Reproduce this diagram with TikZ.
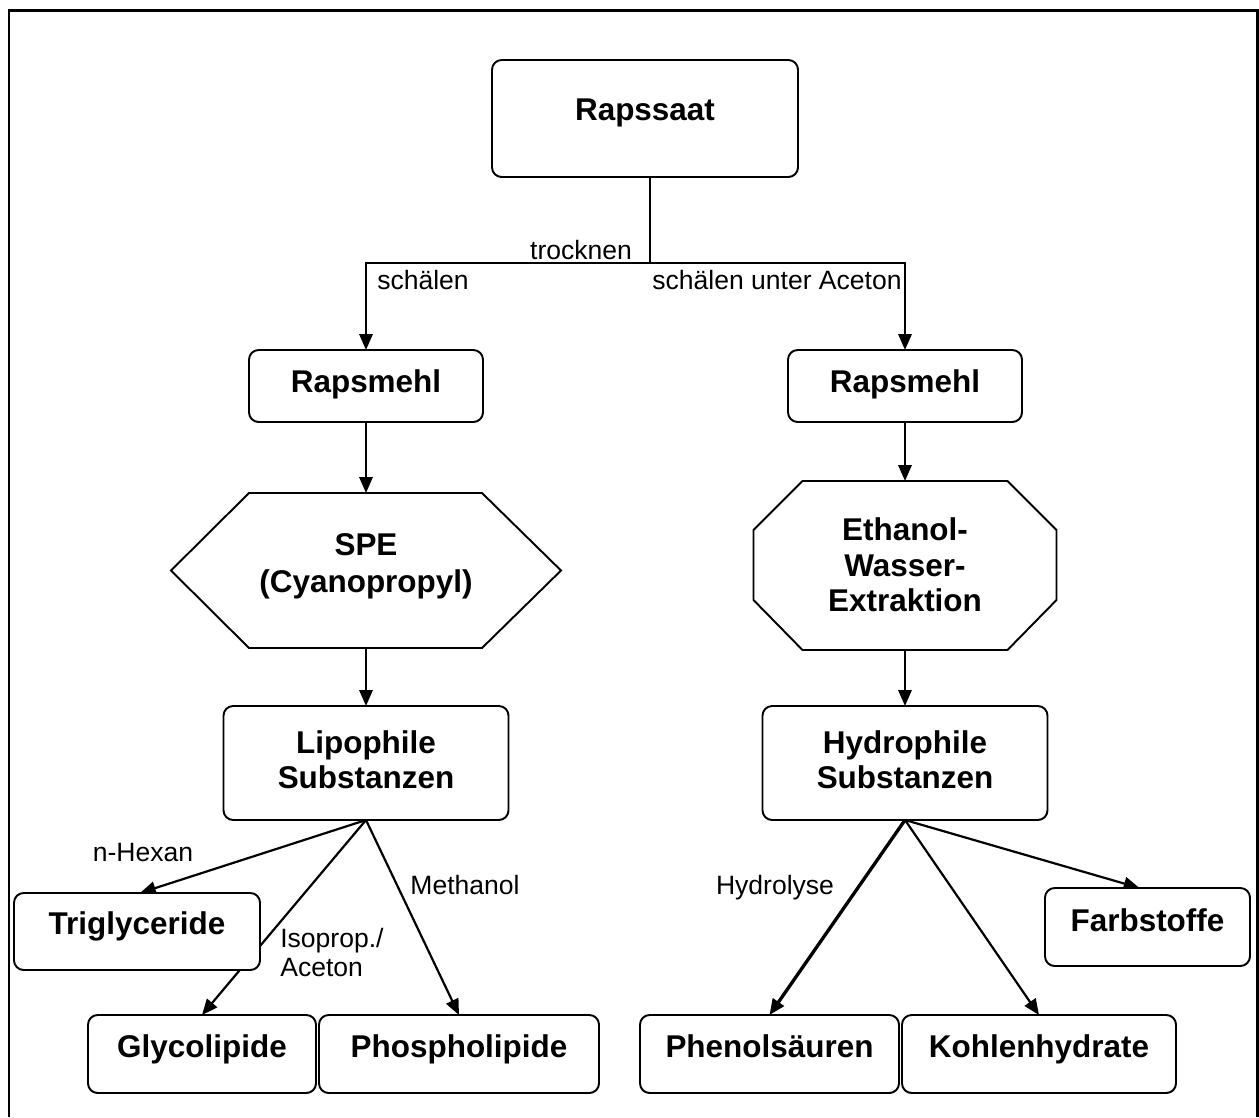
\documentclass[tikz,border=0pt]{standalone}
\usepackage{fontspec}
\setmainfont{Liberation Sans}
\usetikzlibrary{arrows.meta,calc,backgrounds}
\begin{document}
\begin{tikzpicture}[x=0.02cm,y=-0.02cm,
  box/.style={draw, line width=1.1pt, rounded corners=5.5pt, fill=white, inner sep=0pt, outer sep=0pt},
  shp/.style={inner sep=0pt, outer sep=0pt},
  sz/.style 2 args={minimum width=#1*0.02cm, minimum height=#2*0.02cm},
  outline/.style={draw, line width=1.1pt, fill=white},
  bt/.style={font=\fontsize{17.9}{19.8}\selectfont\bfseries, align=center, inner sep=0pt},
  bt1/.style={bt, text height=13pt, text depth=3.8pt},
  lt/.style={font=\fontsize{15.1}{16.4}\selectfont, inner sep=0pt},
  arr/.style={line width=1.25pt, -{Triangle[length=9pt,width=7.5pt]}},
  thickarr/.style={line width=1.9pt, -{Triangle[length=9pt,width=7.5pt]}},
  conn/.style={line width=1.25pt}
]
\useasboundingbox (0,0) rectangle (1259,1117);
\draw[line width=1.7pt] (9,1117) -- (9,10) -- (1257,10) -- (1257,1117);

% boxes
\node[box, sz={306}{117}] (rs) at (645,118.5) {};
\node[bt1] (rs-t) at (645,112) {Rapssaat};

\node[box, sz={234}{72}] (rm1) at (366,386) {};
\node[bt1] (rm1-t) at (366,384) {Rapsmehl};
\node[box, sz={234}{72}] (rm2) at (905,386) {};
\node[bt1] (rm2-t) at (905,384) {Rapsmehl};

% hexagon
\node[shp, sz={390}{155}] (spe) at (366,570.5) {};
\draw[outline] (spe.west) -- ($(spe.north west)+(78,0)$) -- ($(spe.north east)+(-79,0)$)
  -- (spe.east) -- ($(spe.south east)+(-79,0)$) -- ($(spe.south west)+(78,0)$) -- cycle;
\node[bt, font=\fontsize{17.9}{21}\selectfont\bfseries] (spe-t) at (366,566.5) {SPE\\(Cyanopropyl)};

% octagon
\node[shp, sz={303}{169}] (oct) at (905,565.5) {};
\draw[outline] ($(oct.north west)+(49,0)$) -- ($(oct.north east)+(-49,0)$)
  -- ($(oct.north east)+(0,49)$) -- ($(oct.south east)+(0,-50)$)
  -- ($(oct.south east)+(-49,0)$) -- ($(oct.south west)+(49,0)$)
  -- ($(oct.south west)+(0,-50)$) -- ($(oct.north west)+(0,49)$) -- cycle;
\node[bt, font=\fontsize{17.9}{20.3}\selectfont\bfseries] (oct-t) at (905,565) {Ethanol-\\Wasser-\\Extraktion};

\node[box, sz={285}{114}] (lipo) at (366,763) {};
\node[bt] (lipo-t) at (366,760) {Lipophile\\Substanzen};
\node[box, sz={285}{114}] (hydro) at (905,763) {};
\node[bt] (hydro-t) at (905,760) {Hydrophile\\Substanzen};

\node[box, sz={246}{77}] (trig) at (137,931.5) {};
\node[bt1] (trig-t) at (137,926) {Triglyceride};
\node[box, sz={228}{78}] (glyco) at (202,1054) {};
\node[bt1] (glyco-t) at (202,1049) {Glycolipide};
\node[box, sz={280}{78}] (phos) at (459,1054) {};
\node[bt1] (phos-t) at (459,1049) {Phospholipide};
\node[box, sz={259}{78}] (phen) at (769.5,1054) {};
\node[bt1] (phen-t) at (769.5,1049) {Phenolsäuren};
\node[box, sz={274}{78}] (kohl) at (1039,1054) {};
\node[bt1] (kohl-t) at (1039,1049) {Kohlenhydrate};
\node[box, sz={205}{78}] (farb) at (1147.5,927) {};
\node[bt1] (farb-t) at (1147.5,923) {Farbstoffe};

% labels
\node[lt] (l-tr) at (581,250) {trocknen};
\node[lt] (l-s1) at (423,280) {schälen};
\node[lt] (l-s2) at (777,280) {schälen unter Aceton};
\node[lt] (l-hex) at (143,852) {n-Hexan};
\node[lt, align=left, anchor=west] (l-iso) at (280,952.5) {Isoprop./\\Aceton};
\node[lt] (l-me) at (465,885) {Methanol};
\node[lt] (l-hy) at (775,888) {Hydrolyse};

% connectors
\coordinate (j) at (650,263);
\begin{pgfonlayer}{background}
\draw[conn] (rs.south -| j) -- (j);
\draw[arr] (j) -| (rm1.north);
\draw[arr] (j) -| (rm2.north);
\draw[arr] (rm1.south) -- (spe.north);
\draw[arr] (spe.south) -- (lipo.north);
\draw[arr] (rm2.south) -- (oct.north);
\draw[arr] (oct.south) -- (hydro.north);
\draw[arr] (lipo.south) -- ($(trig.north)+(3,0)$);
\draw[arr] (lipo.south) -- (glyco.north);
\draw[arr] (lipo.south) -- (phos.north);
\draw[thickarr] (hydro.south) -- (phen.north);
\draw[arr] (hydro.south) -- (kohl.north);
\draw[arr] (hydro.south) -- ($(farb.north)+(-8,0)$);
\end{pgfonlayer}
\end{tikzpicture}
\end{document}
